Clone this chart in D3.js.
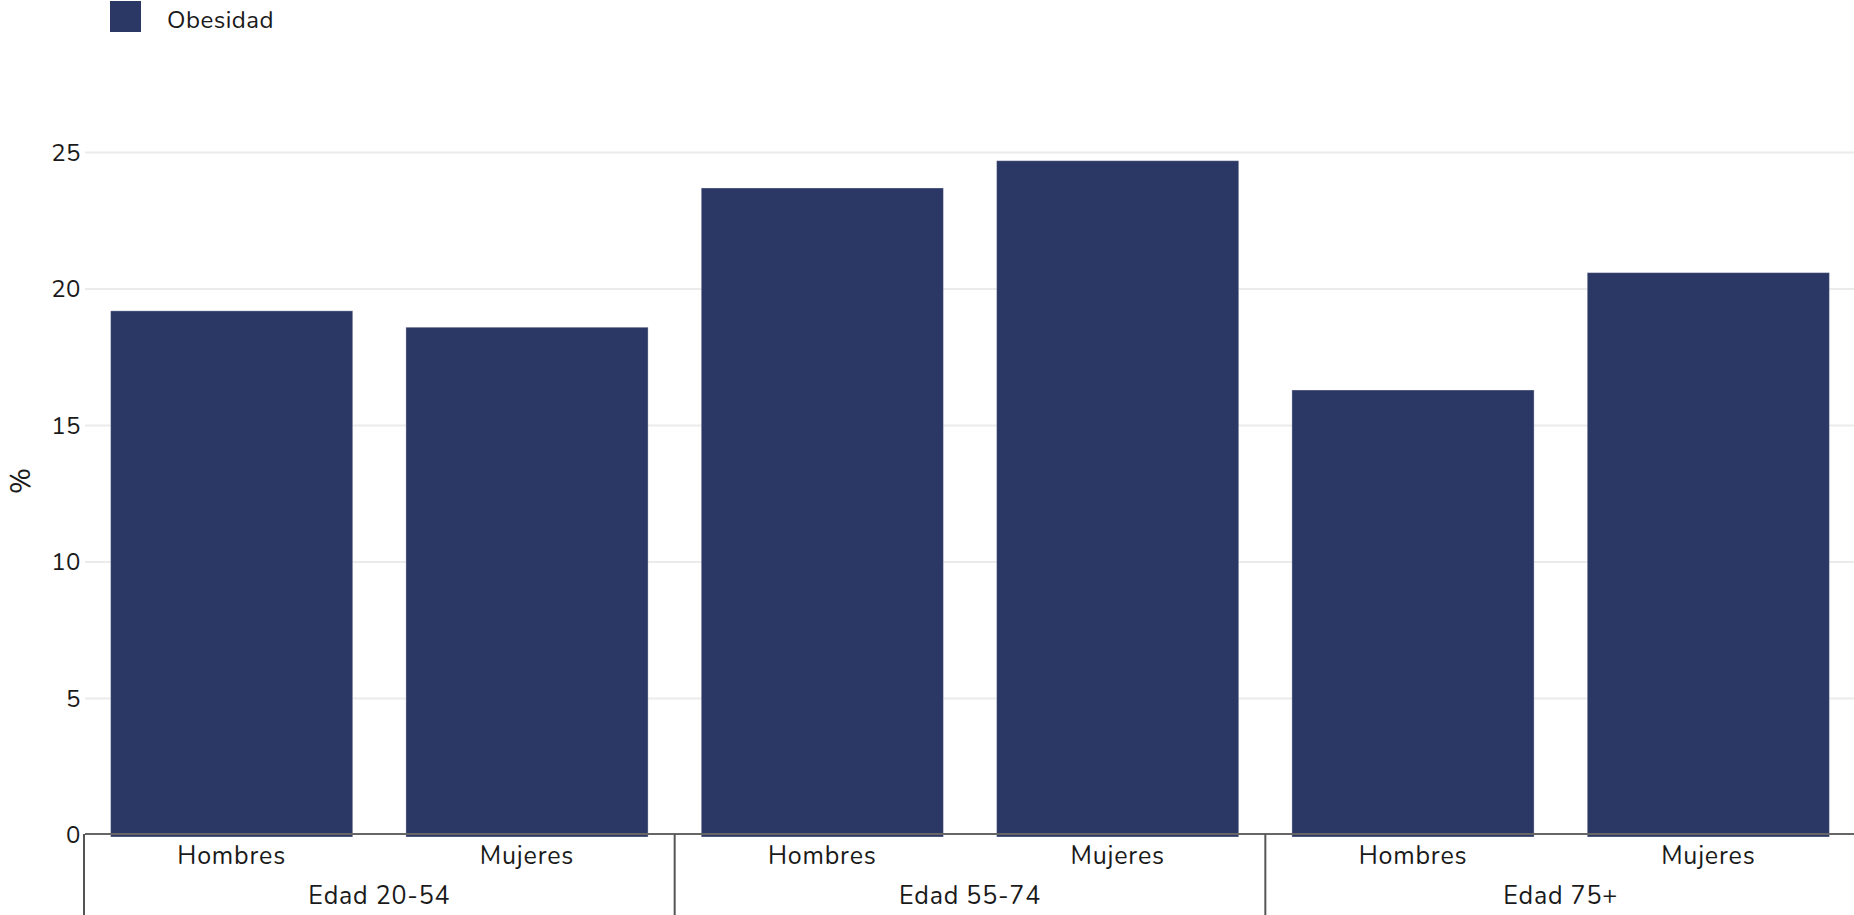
<!DOCTYPE html>
<html>
<head>
<meta charset="utf-8">
<script src="https://cdn.jsdelivr.net/npm/d3@7"></script>
<style>
  html, body { margin: 0; padding: 0; background: #fff; }
  svg { display: block; font-family: "Nunito", "Open Sans", sans-serif; }
</style>
</head>
<body>
<svg id="chart" width="1854" height="915"></svg>
<script>
const groups = ["Edad 20-54", "Edad 55-74", "Edad 75+"];
const sexes = ["Hombres", "Mujeres"];
const seriesName = "Obesidad";
const values = [19.2, 18.6, 23.7, 24.7, 16.3, 20.6];
const yTicks = [0, 5, 10, 15, 20, 25];
const yLabel = "%";

const data = [];
groups.forEach((g, gi) => sexes.forEach((s, si) => data.push({ group: g, sex: s, value: values[gi * 2 + si] })));

const svg = d3.select("#chart");
const color = "#2b3764";
const left = 84, right = 1856;
const x0 = d3.scaleBand().domain(groups).range([left, right]).padding(0);
const x1 = d3.scaleBand().domain(sexes).range([0, x0.bandwidth()]).paddingInner(0.18).paddingOuter(0.09);
const y = d3.scaleLinear().domain([0, 25]).range([835, 152.5]);

// gridlines
svg.append("g").selectAll("line").data(yTicks.filter(d => d > 0)).join("line")
  .attr("x1", 85).attr("x2", 1854)
  .attr("y1", d => y(d)).attr("y2", d => y(d))
  .attr("stroke", "#ebebeb").attr("stroke-width", 2);

// y tick labels
svg.append("g").selectAll("text").data(yTicks).join("text")
  .attr("x", 81).attr("y", d => y(d)).attr("dy", "0.35em")
  .attr("text-anchor", "end").attr("font-size", 24).attr("letter-spacing", 0.5).attr("fill", "#1a1a1a")
  .text(d => d);

// bars
svg.append("g").selectAll("rect").data(data).join("rect")
  .attr("x", d => x0(d.group) + x1(d.sex))
  .attr("width", x1.bandwidth())
  .attr("y", d => y(d.value))
  .attr("height", d => y(0) - y(d.value) + 2)
  .attr("fill", color)
  .attr("stroke", "rgba(255,255,255,0.35)").attr("stroke-width", 1);

// x axis line
svg.append("line").attr("x1", 85).attr("x2", 1854).attr("y1", y(0) - 1).attr("y2", y(0) - 1)
  .attr("stroke", "#666").attr("stroke-width", 2);

// group separators
svg.append("g").selectAll("line").data(groups).join("line")
  .attr("x1", d => x0(d)).attr("x2", d => x0(d))
  .attr("y1", y(0) - 1).attr("y2", 915)
  .attr("stroke", "#555").attr("stroke-width", 2);

// sex labels
svg.append("g").selectAll("text").data(data).join("text")
  .attr("x", d => x0(d.group) + x1(d.sex) + x1.bandwidth() / 2)
  .attr("y", 864)
  .attr("text-anchor", "middle").attr("font-size", 25).attr("letter-spacing", 0.8).attr("fill", "#1a1a1a")
  .text(d => d.sex);

// group labels
svg.append("g").selectAll("text").data(groups).join("text")
  .attr("x", d => x0(d) + x0.bandwidth() / 2)
  .attr("y", 904)
  .attr("text-anchor", "middle").attr("font-size", 25).attr("letter-spacing", 0.8).attr("fill", "#1a1a1a")
  .text(d => d);

// y label
svg.append("text")
  .attr("transform", "translate(30,481) rotate(-90)")
  .attr("text-anchor", "middle").attr("font-size", 28).attr("fill", "#1a1a1a")
  .text(yLabel);

// legend
svg.append("rect").attr("x", 110).attr("y", 1).attr("width", 31).attr("height", 31).attr("fill", color);
svg.append("text").attr("x", 167).attr("y", 28).attr("font-size", 24).attr("letter-spacing", 0.5).attr("fill", "#1a1a1a").text(seriesName);
</script>
</body>
</html>
